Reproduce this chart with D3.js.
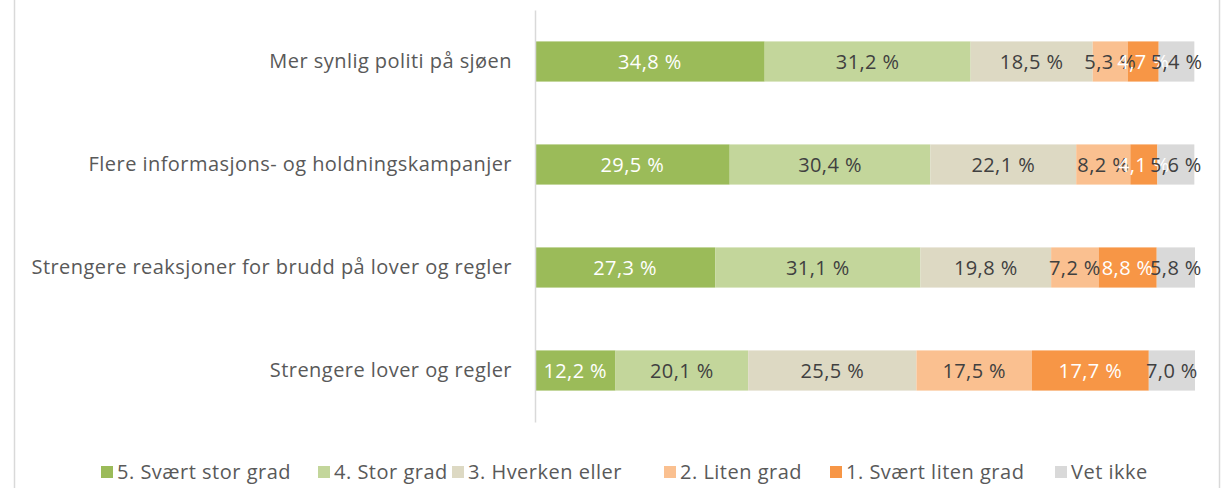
<!DOCTYPE html>
<html>
<head>
<meta charset="utf-8">
<script src="https://cdn.jsdelivr.net/npm/d3@7"></script>
<style>
  body { margin: 0; background: #fff; }
  text { font-family: "Open Sans", sans-serif; }
</style>
</head>
<body>
<script>
'use strict';

// categories, top to bottom
const categories = [
  "Mer synlig politi på sjøen",
  "Flere informasjons- og holdningskampanjer",
  "Strengere reaksjoner for brudd på lover og regler",
  "Strengere lover og regler"
];

const seriesNames = [
  "5. Svært stor grad",
  "4. Stor grad",
  "3. Hverken eller",
  "2. Liten grad",
  "1. Svært liten grad",
  "Vet ikke"
];

// one array per series, in category order
const svaertStor = [34.8, 29.5, 27.3, 12.2];
const stor = [31.2, 30.4, 31.1, 20.1];
const hverken = [18.5, 22.1, 19.8, 25.5];
const liten = [5.3, 8.2, 7.2, 17.5];
const svaertLiten = [4.7, 4.1, 8.8, 17.7];
const vetIkke = [5.4, 5.6, 5.8, 7.0];

const colors = ["#9BBB59", "#C3D69B", "#DDD9C3", "#FAC090", "#F79646", "#D9D9D9"];
const labelColors = ["#fff", "#404040", "#404040", "#404040", "#fff", "#404040"];

const W = 1227, H = 488;
const svg = d3.select("body").append("svg")
  .attr("width", W)
  .attr("height", H);

// frame edges of the chart area
svg.append("line").attr("x1", 14.5).attr("x2", 14.5).attr("y1", 0).attr("y2", H)
  .attr("stroke", "#d9d9d9").attr("stroke-width", 1.5);
svg.append("line").attr("x1", 1219.5).attr("x2", 1219.5).attr("y1", 0).attr("y2", H)
  .attr("stroke", "#d9d9d9").attr("stroke-width", 1.5);

// build rows for stacking
const allSeries = [svaertStor, stor, hverken, liten, svaertLiten, vetIkke];
const rows = categories.map((c, i) => {
  let r = { cat: c };
  seriesNames.forEach((s, j) => { r[s] = allSeries[j][i]; });
  return r;
});

const stacked = d3.stack().keys(seriesNames)(rows);

const x = d3.scaleLinear().domain([0, 100]).range([535, 1195]);
const y = d3.scaleBand().domain(categories).range([10, 422]).paddingInner(0.61).paddingOuter(0.305);

// bars
const groups = svg.selectAll(".series")
  .data(stacked)
  .enter().append("g")
  .attr("class", "series")
  .attr("fill", (d, i) => colors[i]);

groups.selectAll("rect")
  .data(d => d)
  .enter().append("rect")
  .attr("x", d => x(d[0]))
  .attr("y", d => y(d.data.cat))
  .attr("width", d => x(d[1]) - x(d[0]))
  .attr("height", y.bandwidth());

// data labels
stacked.forEach((s, i) => {
  svg.selectAll(".lbl" + i)
    .data(s)
    .enter().append("text")
    .attr("x", d => (x(d[0]) + x(d[1])) / 2)
    .attr("y", d => y(d.data.cat) + y.bandwidth() / 2)
    .attr("dy", "0.35em")
    .attr("text-anchor", "middle")
    .attr("fill", labelColors[i])
    .style("font-size", "20px")
    .style("letter-spacing", "0.4px")
    .text(d => (d[1] - d[0]).toFixed(1).replace(".", ",") + " %");
});

// category axis
const yAxis = d3.axisLeft(y).tickSize(0).tickPadding(23);
const ga = svg.append("g")
  .attr("transform", "translate(535,0)")
  .call(yAxis);
ga.select(".domain").attr("stroke", "#d9d9d9").attr("stroke-width", 1.5);
ga.selectAll("text")
  .style("font-size", "20px")
  .style("letter-spacing", "0.45px")
  .style("font-family", "'Open Sans', sans-serif")
  .attr("fill", "#595959");

// legend
const legendX = [101, 318, 452, 664, 830, 1055];
const legend = svg.selectAll(".legend")
  .data(seriesNames)
  .enter().append("g")
  .attr("transform", (d, i) => "translate(" + legendX[i] + ",466)");

legend.append("rect")
  .attr("width", 12)
  .attr("height", 12)
  .attr("fill", (d, i) => colors[i]);

legend.append("text")
  .attr("x", 16)
  .attr("y", 6)
  .attr("dy", "0.35em")
  .attr("fill", "#595959")
  .style("font-size", "20px")
  .style("letter-spacing", "0.5px")
  .text(d => d);
</script>
</body>
</html>
